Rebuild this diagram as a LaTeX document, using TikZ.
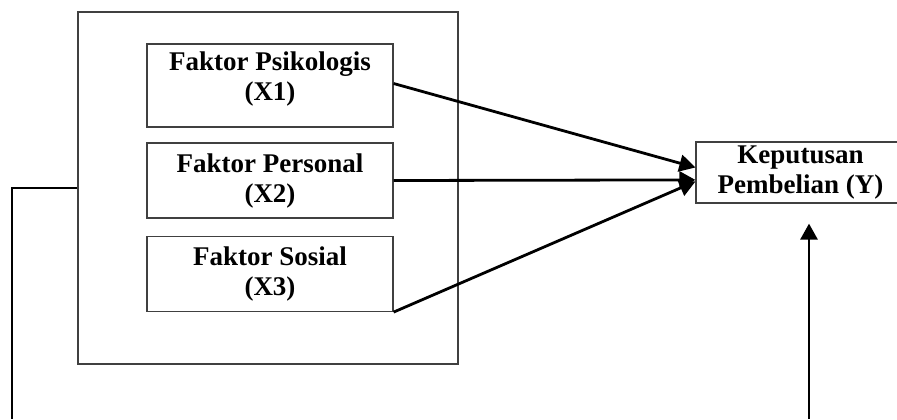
\documentclass[tikz,border=0pt]{standalone}
\usepackage{fontspec}
\setmainfont{Liberation Serif}
\usetikzlibrary{arrows.meta}

\tikzset{
    faktorbox/.style={draw=black!75, line width=0.6pt, inner sep=0pt, minimum width=123pt, align=center, font=\bfseries\fontsize{13.5}{15}\selectfont},
    arr/.style={line width=1.4pt, -{Triangle[length=8pt, width=8.5pt]}}
}

\begin{document}
\begin{tikzpicture}[x=0.5pt, y=-0.5pt]
        \useasboundingbox (0, 0) rectangle (897, 419);

        \node[draw=black!75, line width=0.6pt, minimum width=190pt, minimum height=176pt, inner sep=0pt] (faktor) at (268, 188) {};
        \node[faktorbox, minimum height=41.5pt] (x1) at (270, 85.5) {Faktor Psikologis\\(X1)\\[-6pt]\mbox{}};
        \node[faktorbox, minimum height=37.5pt] (x2) at (270, 180.5) {Faktor Personal\\(X2)};
        \node[faktorbox, minimum height=37.5pt] (x3) at (270, 274) {Faktor Sosial\\(X3)};
        \node[faktorbox, minimum width=104.5pt, minimum height=30.5pt] (y) at (800.5, 172.5) {Keputusan\\Pembelian (Y)};

        \coordinate (lbot) at (12, 419);
        \coordinate (ybot) at (809, 419);

        \draw[arr] ([yshift=1pt]x1.east) -- ([yshift=2.5pt]y.west);
        \draw[arr] (x2.east) -- ([yshift=-3.7pt]y.west);
        \draw[arr] (x3.south east) -- ([yshift=-4.5pt]y.west);
        \draw[line width=1.2pt] (faktor.west) -| (lbot);
        \draw[arr] (ybot) -- ([yshift=-10pt]y.south -| ybot);
\end{tikzpicture}
\end{document}
